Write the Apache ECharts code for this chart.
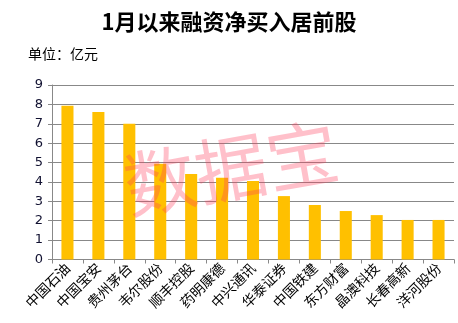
<!DOCTYPE html>
<html><head><meta charset="utf-8">
<script src="https://cdn.jsdelivr.net/npm/echarts@6/dist/echarts.min.js"></script>
<style>html,body{margin:0;padding:0;background:#fff}#c{width:458px;height:323px}</style>
</head><body><div id="c"></div>
<script>
const categories = ['中国石油','中国宝安','贵州茅台','韦尔股份','顺丰控股','药明康德','中兴通讯','华泰证券','中国铁建','东方财富','晶澳科技','长春高新','洋河股份'];
const values = [7.93, 7.61, 7.0, 4.94, 4.41, 4.22, 4.05, 3.27, 2.81, 2.5, 2.29, 2.04, 2.04];
const yTicks = [0,1,2,3,4,5,6,7,8,9];
const titleText = '1月以来融资净买入居前股';
const unitText = '单位：亿元';
const watermark = '数据宝';

const chart = echarts.init(document.getElementById('c'));
chart.setOption({
  backgroundColor: '#fff',
  animation: false,
  title: {
    text: titleText, left: 'center', top: 6,
    textStyle: {fontFamily: 'Noto Sans CJK SC', fontWeight: 'bold', fontSize: 22, color: '#000'}
  },
  grid: {left: 52, right: 4, top: 85, bottom: 63.5},
  xAxis: {
    type: 'category', data: categories,
    axisLine: {lineStyle: {color: '#888', width: 1}},
    axisTick: {show: true, alignWithLabel: false, length: 4, lineStyle: {color: '#888'}},
    axisLabel: {rotate: 45, fontSize: 14, color: '#000', fontFamily: 'Noto Sans CJK SC', margin: 6, interval: 0}
  },
  yAxis: {
    type: 'value', min: yTicks[0], max: yTicks[yTicks.length-1], interval: 1,
    axisLine: {show: true, lineStyle: {color: '#888'}},
    axisTick: {show: true, length: 4, lineStyle: {color: '#888'}},
    axisLabel: {fontSize: 13, color: '#101030', fontFamily: 'DejaVu Sans', margin: 9},
    splitLine: {lineStyle: {color: '#888', width: 1}}
  },
  series: [{
    type: 'bar', data: values, barWidth: '39%',
    itemStyle: {color: '#FFC000'}, z: 2
  }],
  graphic: [
    {type: 'text', left: 28, top: 47, z: 10,
      style: {text: unitText, fontSize: 14, fill: '#000', fontFamily: 'Noto Sans CJK SC'}},
    {type: 'text', x: 231, y: 168, rotation: 10 * Math.PI / 180, z: 100,
      style: {text: watermark, fontSize: 72, fill: 'rgba(255,60,90,0.32)', fontFamily: 'Noto Sans CJK SC',
        align: 'center', verticalAlign: 'middle'}}
  ]
});
</script></body></html>
